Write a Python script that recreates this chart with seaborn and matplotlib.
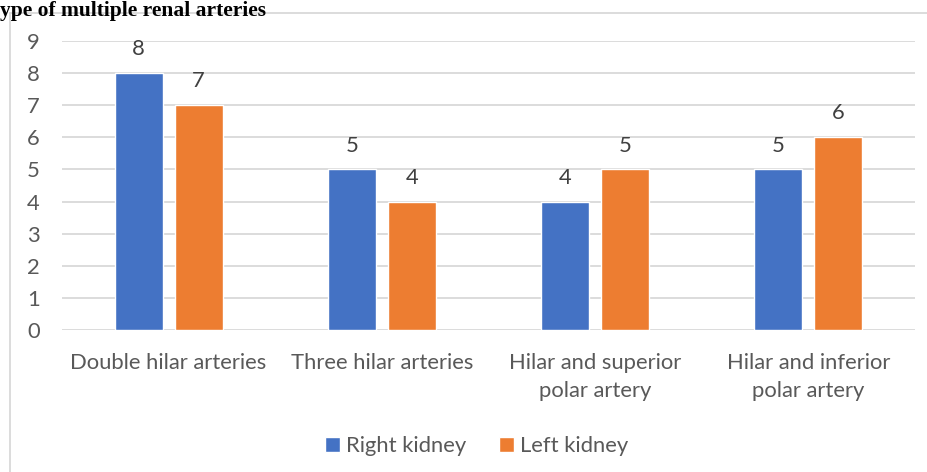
import matplotlib
matplotlib.use("Agg")
import matplotlib.pyplot as plt
import seaborn as sns
import pandas as pd
from matplotlib.lines import Line2D

categories = ["Double hilar arteries", "Three hilar arteries",
              "Hilar and superior\npolar artery", "Hilar and inferior\npolar artery"]
right_kidney = [8, 5, 4, 5]
left_kidney = [7, 4, 5, 6]
series_names = ["Right kidney", "Left kidney"]
y_ticks = [0, 1, 2, 3, 4, 5, 6, 7, 8, 9]
title_text = "ype of multiple renal arteries"

df = pd.DataFrame({
    "category": categories * 2,
    "value": right_kidney + left_kidney,
    "series": [series_names[0]] * 4 + [series_names[1]] * 4,
})

sns.set_theme(style="white")
plt.rcParams["font.family"] = ["Lato", "DejaVu Sans"]
TXT = "#595959"
FS = 15.8

fig = plt.figure(figsize=(9.28, 4.72), dpi=100)
ax = fig.add_axes([62 / 928, 1 - 330 / 472, (915 - 62) / 928, (330 - 41) / 472])

sns.barplot(data=df, x="category", y="value", hue="series", order=categories,
            hue_order=series_names, palette=["#4472C4", "#ED7D31"],
            width=0.562, gap=0.2, ax=ax, saturation=1, legend=True)

ax.set_ylim(0, 9)
ax.set_xlim(-0.5, 3.5)
ax.set_yticks(y_ticks)
ax.set_yticklabels([str(t) for t in y_ticks])
ax.yaxis.grid(True, color="#d9d9d9", linewidth=1.3)
ax.set_axisbelow(True)
for s in ax.spines.values():
    s.set_visible(False)
ax.set_xlabel("")
ax.set_ylabel("")
ax.tick_params(axis="y", length=0, pad=16, labelsize=FS, labelcolor=TXT)
ax.tick_params(axis="x", length=0, pad=16.5, labelsize=FS, labelcolor=TXT)
for lab in ax.get_xticklabels():
    lab.set_linespacing(1.5)

for cont in ax.containers:
    ax.bar_label(cont, labels=[f"{v:g}" for v in cont.datavalues],
                 padding=10, fontsize=FS, color="#404040")

handles, labels = ax.get_legend_handles_labels()
ax.legend(handles, labels, loc="center", bbox_to_anchor=(477 / 928, 1 - 446 / 472),
          bbox_transform=fig.transFigure, ncol=2, frameon=False,
          handlelength=0.65, handleheight=0.65, handletextpad=0.3,
          columnspacing=1.5, fontsize=FS, labelcolor=TXT)

# chart frame
fy = 1 - 13 / 472
fx = 10 / 928
fig.add_artist(Line2D([fx, fx], [0, fy], transform=fig.transFigure, color="#d9d9d9", lw=1.3))
fig.add_artist(Line2D([fx, 1], [fy, fy], transform=fig.transFigure, color="#d9d9d9", lw=1.3))

fig.text(0.0, 1 - 1 / 472, title_text, ha="left", va="top",
         fontsize=15.5, fontweight="bold", family=["Liberation Serif", "DejaVu Serif"],
         color="black", zorder=5)

fig.savefig("out.png", dpi=100, facecolor="white")
